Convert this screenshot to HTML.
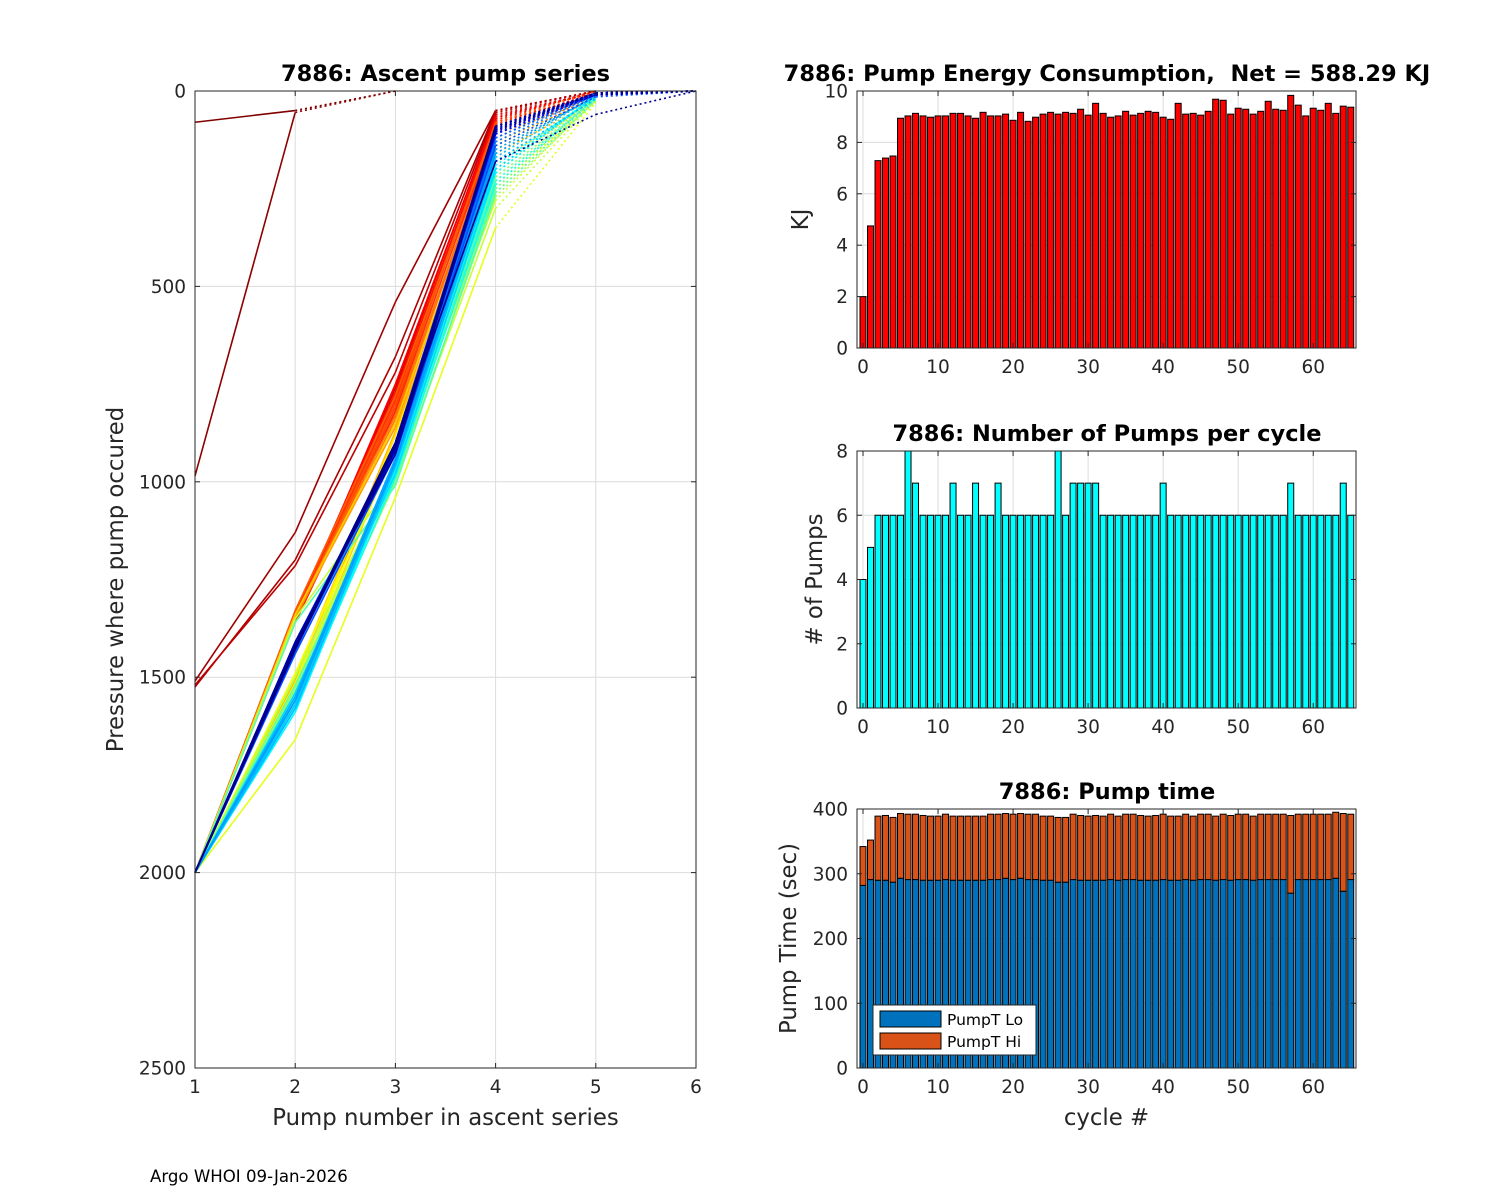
<!DOCTYPE html>
<html><head><meta charset="utf-8"><style>
body{margin:0;background:#fff;}
svg{display:block;font-family:"DejaVu Sans","Liberation Sans",sans-serif;}
.t{font-size:18.5px;fill:#262626;}
.ttl{font-size:22.5px;font-weight:bold;fill:#000;white-space:pre;}
.lab{font-size:22.8px;fill:#262626;}
</style></head><body>
<svg id="fig" width="1500" height="1200" viewBox="0 0 1500 1200" xmlns="http://www.w3.org/2000/svg">
<rect width="1500" height="1200" fill="#fff"/>
<g id="gL"></g>
<g id="gE"></g>
<g id="gN"></g>
<g id="gT"></g>
<text x="150" y="1182" font-size="16.6" fill="#000">Argo WHOI 09-Jan-2026</text>
</svg>
<script>
// ---------- data ----------
const energyKJ = [2.0,4.75,7.29,7.39,7.47,8.94,9.03,9.13,9.03,8.98,9.03,9.03,9.13,9.13,9.03,8.94,9.17,9.03,9.03,9.10,8.86,9.17,8.82,8.98,9.10,9.17,9.10,9.17,9.13,9.29,9.06,9.52,9.13,8.98,9.03,9.21,9.06,9.13,9.21,9.17,8.98,8.90,9.52,9.10,9.13,9.06,9.21,9.68,9.64,9.10,9.33,9.29,9.10,9.21,9.60,9.29,9.25,9.83,9.45,9.03,9.33,9.25,9.52,9.13,9.41,9.37];
const numPumps = [4,5,6,6,6,6,8,7,6,6,6,6,7,6,6,7,6,6,7,6,6,6,6,6,6,6,8,6,7,7,7,7,6,6,6,6,6,6,6,6,7,6,6,6,6,6,6,6,6,6,6,6,6,6,6,6,6,7,6,6,6,6,6,6,7,6];
const pumpTotal = [342,352,389,390,387,393,392,392,390,389,389,392,389,389,389,389,389,392,392,393,392,393,392,392,389,389,387,387,392,390,389,390,389,392,389,392,392,390,389,390,392,389,389,392,389,392,392,389,392,390,392,392,389,392,392,392,392,390,392,392,392,392,392,395,393,392];
const pumpLo = [282,291,290,290,287,293,291,291,290,290,290,291,290,290,290,290,290,291,291,293,291,293,291,291,290,290,287,287,291,290,290,290,290,291,290,291,291,290,290,290,291,290,290,291,290,291,291,290,291,290,291,291,290,291,291,291,291,270,291,291,291,291,291,293,273,291];
const cycleTicks = [0,10,20,30,40,50,60];
// ascent series pressures by pump number (null = no pump)
const p1 = [80,985,1510,1525,1520,2000,2000,2000,2000,2000,2000,2000,2000,2000,2000,2000,2000,2000,2000,2000,2000,2000,2000,2000,2000,2000,2000,2000,2000,2000,2000,2000,2000,2000,2000,2000,2000,2000,2000,2000,2000,2000,2000,2000,2000,2000,2000,2000,2000,2000,2000,2000,2000,2000,2000,2000,2000,2000,2000,2000,2000,2000,2000,2000,2000,2000];
const p2 = [50,55,1130,1200,1215,1340,1330,1345,1350,1335,1360,1340,1355,1345,1330,1340,1350,1520,1345,1510,1500,1340,1530,1500,1515,1490,1660,1520,1350,1500,1540,1560,1530,1550,1520,1360,1540,1560,1570,1580,1550,1590,1560,1540,1570,1580,1550,1560,1420,1430,1410,1420,1440,1425,1415,1430,1420,1410,1430,1425,1415,1420,1430,1410,1420,1425];
const p3 = [0,0,540,680,720,760,780,800,750,770,820,790,810,800,780,830,840,880,860,900,870,850,910,880,900,920,1040,950,990,960,980,1000,960,970,990,1010,970,980,960,990,950,970,960,980,950,960,940,950,900,920,910,900,930,910,920,900,910,920,900,910,920,900,910,930,900,910];
const p4 = [null,null,50,50,55,60,70,80,65,75,90,85,100,80,90,110,120,150,130,170,160,140,200,180,220,250,350,280,300,260,240,270,220,250,230,260,210,230,200,240,190,210,180,200,170,180,150,160,120,130,110,120,140,100,110,90,100,95,110,100,90,105,95,100,180,90];
const p5 = [null,null,0,0,0,5,0,10,5,0,10,5,15,0,10,20,10,15,20,10,25,15,20,30,20,25,30,20,25,20,15,25,20,15,20,25,15,20,10,20,15,10,20,15,10,20,15,10,5,10,5,10,15,5,10,5,10,5,10,5,10,5,10,5,60,5];
const p6 = [null,null,null,null,null,null,null,null,null,null,null,null,null,null,null,null,null,null,null,null,null,null,null,null,null,null,null,null,null,null,null,null,null,null,null,null,null,null,null,null,null,null,null,null,null,null,null,null,0,0,0,0,0,0,0,0,0,0,0,0,0,0,0,0,0,0];
const solidPts = [2,2,4,4,4,4,4,4,4,4,4,4,4,4,4,4,4,4,4,4,4,4,4,4,4,4,4,4,4,4,4,4,4,4,4,4,4,4,4,4,4,4,4,4,4,4,4,4,4,4,4,4,4,4,4,4,4,4,4,4,4,4,4,4,4,4];
const pumpXTicks = [1,2,3,4,5,6];
const presTicks = [0,500,1000,1500,2000,2500];
const energyTicks = [0,2,4,6,8,10];
const pumpTicks = [0,2,4,6,8];
const timeTicks = [0,100,200,300,400];

const NS = "http://www.w3.org/2000/svg";
function mk(parent, tag, attrs){const e=document.createElementNS(NS,tag);for(const k in attrs)e.setAttribute(k,attrs[k]);parent.appendChild(e);return e;}
function scale(d0,d1,r0,r1){return v=>r0+(v-d0)/(d1-d0)*(r1-r0);}
function jet(t){
  const r=Math.min(Math.max(Math.min(4*t-1.5,-4*t+4.5),0),1);
  const g=Math.min(Math.max(Math.min(4*t-0.5,-4*t+3.5),0),1);
  const b=Math.min(Math.max(Math.min(4*t+0.5,-4*t+2.5),0),1);
  return `rgb(${Math.round(r*255)},${Math.round(g*255)},${Math.round(b*255)})`;
}

function frame(g,L,T,R,B,x,y,xt,yt){
  for(const v of xt){const gl=mk(g,'line',{x1:x(v),x2:x(v),y1:T,y2:B,stroke:'#dcdcdc','stroke-width':1});
    }
  for(const v of yt){const gl=mk(g,'line',{x1:L,x2:R,y1:y(v),y2:y(v),stroke:'#dcdcdc','stroke-width':1});
    }
}
function axes(g,L,T,R,B,x,y,xt,yt,title,ylab,xlab,titleX){
  const box=mk(g,'rect',{x:L,y:T,width:R-L,height:B-T,fill:'none',stroke:'#262626','stroke-width':1});
  
  for(const v of xt){
    mk(g,'line',{x1:x(v),x2:x(v),y1:B,y2:B-5,stroke:'#262626'});mk(g,'line',{x1:x(v),x2:x(v),y1:T,y2:T+5,stroke:'#262626'});
    const tx=mk(g,'text',{x:x(v),y:B+25,'text-anchor':'middle',class:'t'});tx.textContent=v;
    
  }
  for(const v of yt){
    mk(g,'line',{x1:L,x2:L+5,y1:y(v),y2:y(v),stroke:'#262626'});mk(g,'line',{x1:R,x2:R-5,y1:y(v),y2:y(v),stroke:'#262626'});
    const tx=mk(g,'text',{x:L-9,y:y(v)+6.5,'text-anchor':'end',class:'t'});tx.textContent=v;
    
  }
  const tt=mk(g,'text',{x:titleX,y:T-10,'text-anchor':'middle',class:'ttl'});tt.textContent=title;
  
  if(ylab){const yl=mk(g,'text',{x:0,y:0,'text-anchor':'middle',class:'lab',transform:`translate(${ylab[1]},${(T+B)/2}) rotate(-90)`});yl.textContent=ylab[0];
    }
  if(xlab){const xl=mk(g,'text',{x:(L+R)/2,y:B+57,'text-anchor':'middle',class:'lab'});xl.textContent=xlab;
    }
}

// ---------- left chart ----------
(function(){
  const g=document.getElementById('gL');
  const L=195,R=696,T=91,B=1068;
  const x=scale(1,6,L,R), y=scale(0,2500,T,B);
  frame(g,L,T,R,B,x,y,pumpXTicks,presTicks);
  const n=p1.length;
  for(let c=0;c<n;c++){
    const pts=[p1[c],p2[c],p3[c],p4[c],p5[c],p6[c]];
    const col=jet(1-c/(n-1));
    for(let i=0;i<pts.length-1;i++){
      if(pts[i]===null||pts[i+1]===null)continue;
      const solid=(i+1)<solidPts[c];
      const ln=mk(g,'line',{x1:x(i+1),y1:y(pts[i]),x2:x(i+2),y2:y(pts[i+1]),stroke:col,'stroke-width':1.6,'stroke-dasharray':solid?'none':'2,3'});
      
      
    }
  }
  axes(g,L,T,R,B,x,y,pumpXTicks,presTicks,'7886: Ascent pump series',['Pressure where pump occured',123],'Pump number in ascent series',(L+R)/2);
})();

// ---------- right charts ----------
const RL=857,RR=1356;
const xc=scale(-0.8,65.7,RL,RR);
const bw=0.8*(RR-RL)/66.5;
(function(){
  const g=document.getElementById('gE');const T=91,B=348;
  const y=scale(0,10,B,T);
  frame(g,RL,T,RR,B,xc,y,cycleTicks,energyTicks);
  energyKJ.forEach((v,i)=>{
    const r=mk(g,'rect',{x:xc(i)-bw/2,y:y(v),width:bw,height:B-y(v),fill:'#ff0000',stroke:'#000','stroke-width':1});
    
    
  });
  axes(g,RL,T,RR,B,xc,y,cycleTicks,energyTicks,'7886: Pump Energy Consumption,  Net = 588.29 KJ',['KJ',808],null,1107);
})();
(function(){
  const g=document.getElementById('gN');const T=451,B=708;
  const y=scale(0,8,B,T);
  frame(g,RL,T,RR,B,xc,y,cycleTicks,pumpTicks);
  numPumps.forEach((v,i)=>{
    const r=mk(g,'rect',{x:xc(i)-bw/2,y:y(v),width:bw,height:B-y(v),fill:'#00ffff',stroke:'#000','stroke-width':1});
    
    
  });
  axes(g,RL,T,RR,B,xc,y,cycleTicks,pumpTicks,'7886: Number of Pumps per cycle',['# of Pumps',822],null,1107);
})();
(function(){
  const g=document.getElementById('gT');const T=809,B=1068;
  const y=scale(0,400,B,T);
  frame(g,RL,T,RR,B,xc,y,cycleTicks,timeTicks);
  pumpLo.forEach((v,i)=>{
    const r=mk(g,'rect',{x:xc(i)-bw/2,y:y(v),width:bw,height:B-y(v),fill:'#0072bd',stroke:'#000','stroke-width':1});
    
    
    const h=mk(g,'rect',{x:xc(i)-bw/2,y:y(pumpTotal[i]),width:bw,height:y(v)-y(pumpTotal[i]),fill:'#d95319',stroke:'#000','stroke-width':1});
    
    
  });
  axes(g,RL,T,RR,B,xc,y,cycleTicks,timeTicks,'7886: Pump time',['Pump Time (sec)',796],'cycle #',1107);
  const lg=mk(g,'g',{});
  
  mk(lg,'rect',{x:873,y:1005,width:163,height:50,fill:'#fff',stroke:'#262626','stroke-width':1});
  const s1=mk(lg,'rect',{x:880,y:1011,width:61,height:16,fill:'#0072bd',stroke:'#000'});
  
  const t1=mk(lg,'text',{x:947,y:1025,'font-size':15.5,fill:'#000'});t1.textContent='PumpT Lo';
  
  const s2=mk(lg,'rect',{x:880,y:1033,width:61,height:16,fill:'#d95319',stroke:'#000'});
  
  const t2=mk(lg,'text',{x:947,y:1047,'font-size':15.5,fill:'#000'});t2.textContent='PumpT Hi';
  
})();
</script>
</body></html>
